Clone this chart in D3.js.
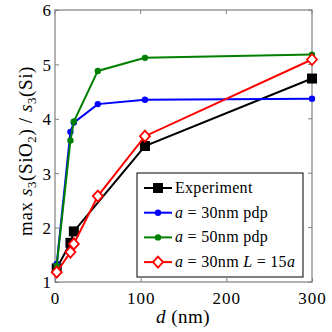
<!DOCTYPE html>
<html>
<head>
<meta charset="utf-8">
<script src="https://cdn.jsdelivr.net/npm/d3@7"></script>
<style>
body { margin: 0; background: #fff; }
svg text { font-family: "Liberation Serif", "DejaVu Serif", serif; }
</style>
</head>
<body>
<svg id="chart"></svg>
<script>
const width = 332;
const height = 332;
const margin = { top: 10, right: 20, bottom: 50, left: 55 };

// thickness d (nm)
const dExp = [2, 18, 22, 105, 300];
const experiment = [1.25, 1.72, 1.93, 3.5, 4.74];
const dSim = [2, 18, 22, 50, 105, 300];
const pdp30 = [1.33, 3.76, 3.93, 4.27, 4.35, 4.37];
const pdp50 = [1.3, 3.6, 3.95, 4.88, 5.12, 5.18];
const l15 = [1.18, 1.55, 1.7, 2.58, 3.68, 5.09];

const xTicks = [0, 100, 200, 300];
const yTicks = [1, 2, 3, 4, 5, 6];

const series = [
    { name: "Experiment", x: dExp, y: experiment, color: "#000000", marker: "square" },
    { name: "a30", x: dSim, y: pdp30, color: "#0000ff", marker: "dot" },
    { name: "a50", x: dSim, y: pdp50, color: "#008000", marker: "dot" },
    { name: "L15", x: dSim, y: l15, color: "#ff0000", marker: "diamond" }
];

const svg = d3.select("#chart")
    .attr("width", width)
    .attr("height", height);

const xScale = d3.scaleLinear()
    .domain([0, 300])
    .range([margin.left, width - margin.right]);

const yScale = d3.scaleLinear()
    .domain([1, 6])
    .range([height - margin.bottom, margin.top]);

const axisColor = "#808080";

// ticks inside the box
const xAxis = d3.axisBottom(xScale).tickValues(xTicks).tickSize(-4).tickPadding(10).tickFormat(d3.format("d"));
const yAxis = d3.axisLeft(yScale).tickValues(yTicks).tickSize(-4).tickPadding(3).tickFormat(d3.format("d"));

const gx = svg.append("g")
    .attr("transform", `translate(0, ${height - margin.bottom})`)
    .call(xAxis);
const gy = svg.append("g")
    .attr("transform", `translate(${margin.left}, 0)`)
    .call(yAxis);

[gx, gy].forEach(g => {
    g.select(".domain").remove();
    g.selectAll(".tick line").attr("stroke", axisColor);
    g.selectAll(".tick text").attr("fill", "#000").style("font-size", "17px").style("letter-spacing", "1px");
});
gx.selectAll(".tick text").attr("dy", "0.7em");
gy.selectAll(".tick text").attr("dy", "0.35em");

// top/right ticks
svg.append("g").selectAll("line").data(xTicks).enter().append("line")
    .attr("x1", d => xScale(d)).attr("x2", d => xScale(d))
    .attr("y1", margin.top).attr("y2", margin.top + 4)
    .attr("stroke", axisColor);
svg.append("g").selectAll("line").data(yTicks).enter().append("line")
    .attr("x1", width - margin.right).attr("x2", width - margin.right - 4)
    .attr("y1", d => yScale(d)).attr("y2", d => yScale(d))
    .attr("stroke", axisColor);

svg.append("rect")
    .attr("x", margin.left)
    .attr("y", margin.top)
    .attr("width", width - margin.left - margin.right)
    .attr("height", height - margin.top - margin.bottom)
    .attr("fill", "none")
    .attr("stroke", axisColor)
    .attr("stroke-width", 1.2);

const line = d3.line();

function drawMarker(g, type, color, x, y) {
    if (type === "square") {
        g.append("rect").attr("x", x - 5).attr("y", y - 5).attr("width", 10).attr("height", 10)
            .attr("fill", color);
    } else if (type === "dot") {
        g.append("circle").attr("cx", x).attr("cy", y).attr("r", 3.2).attr("fill", color);
    } else {
        g.append("path")
            .attr("d", `M${x},${y - 5.5}L${x + 5},${y}L${x},${y + 5.5}L${x - 5},${y}Z`)
            .attr("fill", "#fff").attr("stroke", color).attr("stroke-width", 1.8);
    }
}

series.forEach(s => {
    const pts = s.x.map((d, i) => [xScale(d), yScale(s.y[i])]);
    svg.append("path")
        .attr("d", line(pts))
        .attr("fill", "none")
        .attr("stroke", s.color)
        .attr("stroke-width", 2);
    const g = svg.append("g");
    pts.forEach(p => drawMarker(g, s.marker, s.color, p[0], p[1]));
});

// legend
const lg = svg.append("g");
lg.append("rect")
    .attr("x", 137).attr("y", 173).attr("width", 166).attr("height", 104)
    .attr("fill", "#fff").attr("stroke", "#000").attr("stroke-width", 1);

const legendLabels = [
    [{ t: "Experiment" }],
    [{ t: "a", i: true }, { t: " = 30nm pdp" }],
    [{ t: "a", i: true }, { t: " = 50nm pdp" }],
    [{ t: "a", i: true }, { t: " = 30nm " }, { t: "L", i: true }, { t: " = 15" }, { t: "a", i: true }]
];

series.forEach((s, i) => {
    const y = 188 + i * 24.7;
    lg.append("line").attr("x1", 144).attr("x2", 172).attr("y1", y).attr("y2", y)
        .attr("stroke", s.color).attr("stroke-width", 2);
    drawMarker(lg, s.marker, s.color, 158, y);
    const t = lg.append("text").attr("x", 175).attr("y", y + 5).style("font-size", "16px")
        .style("letter-spacing", "0.3px");
    legendLabels[i].forEach(p => {
        t.append("tspan").text(p.t).style("font-style", p.i ? "italic" : "normal");
    });
});

// axis labels
svg.append("text")
    .attr("x", 183)
    .attr("y", 323)
    .attr("text-anchor", "middle")
    .style("font-size", "19px")
    .style("letter-spacing", "0.5px")
    .html('<tspan font-style="italic">d</tspan> (nm)');

const yl = svg.append("text")
    .attr("transform", `translate(32, 151) rotate(-90)`)
    .attr("text-anchor", "middle")
    .style("font-size", "19px")
    .style("letter-spacing", "0.6px");
yl.append("tspan").text("max  ");
yl.append("tspan").text("s").style("font-style", "italic");
yl.append("tspan").text("3").attr("dy", 4).style("font-size", "13px");
yl.append("tspan").text("(SiO").attr("dy", -4);
yl.append("tspan").text("2").attr("dy", 4).style("font-size", "13px");
yl.append("tspan").text(") / ").attr("dy", -4);
yl.append("tspan").text("s").style("font-style", "italic");
yl.append("tspan").text("3").attr("dy", 4).style("font-size", "13px");
yl.append("tspan").text("(Si)").attr("dy", -4);
</script>
</body>
</html>
